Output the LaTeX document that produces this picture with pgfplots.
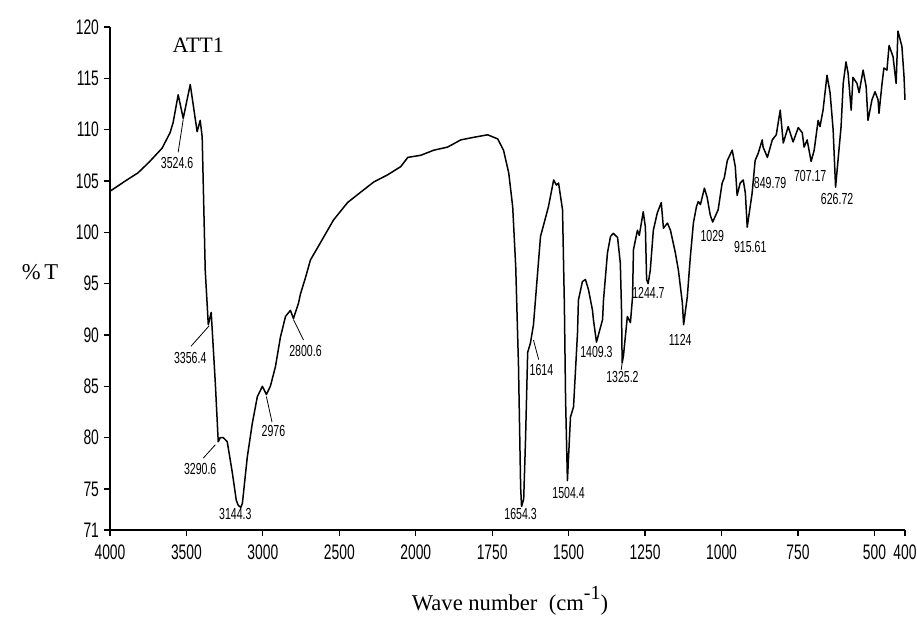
\documentclass[border=0pt]{standalone}
\usepackage{pgfplots}
\pgfplotsset{compat=1.18}
\usepackage{fontspec}
\setmainfont{Liberation Serif}
\newfontfamily\narrow[FakeStretch=0.66]{Liberation Sans}
\begin{document}
\begin{tikzpicture}
\path[use as bounding box] (-55pt,-43.5pt) rectangle (403.5pt,265pt);
\begin{axis}[
  at={(0,0)}, anchor=south west,
  scale only axis, width=397.5pt, height=251.5pt,
  x coord trafo/.code={\pgfmathparse{(#1>2000)*(2000+(#1-2000)/2)+(#1<=2000)*#1}},
  x coord inv trafo/.code={\pgfmathparse{(#1>2000)*(2000+(#1-2000)*2)+(#1<=2000)*#1}},
  x dir=reverse,
  xmin=400, xmax=4000, ymin=71, ymax=120,
  axis lines=left, axis line style={line width=0.9pt,-},
  xtick={4000,3500,3000,2500,2000,1750,1500,1250,1000,750,500,400},
  xticklabels={4000,3500,3000,2500,2000,1750,1500,1250,1000,750,500,400},
  ytick={71,75,80,85,90,95,100,105,110,115,120},
  tick align=outside, major tick length=3pt,
  tick style={black, line width=0.6pt},
  /pgf/number format/assume math mode=true,
  ticklabel style={font=\narrow\fontsize{10.5}{11}\selectfont},
  xticklabel style={yshift=-1pt},
  yticklabel style={xshift=1pt},
  clip=false,
]
\addplot[black, line width=0.75pt, line join=round] coordinates {
(4000,104.0) (3900,105.0) (3816,105.8) (3740,106.9) (3659,108.2) (3607,109.7) (3587,110.7) (3554,113.4) (3521,111.1)
(3475,114.4) (3430,109.8) (3410,110.9) (3397,109.3) (3377,96.3) (3357,91.0) (3338,92.2)
(3311,85.3) (3292,79.6) (3279,80.0) (3259,80.0) (3233,79.6) (3200,76.6) (3174,73.9)
(3161,73.4) (3144,73.2) (3134,73.6) (3102,78.1) (3069,81.4) (3036,84.0) (3003,85.0)
(2977,84.2) (2951,85.0) (2918,86.9) (2885,89.8) (2852,91.8) (2820,92.4) (2800,91.6)
(2767,93.1) (2754,94.0) (2721,95.6) (2689,97.3) (2623,99.0) (2538,101.2) (2446,102.9)
(2361,103.9) (2275,104.9) (2184,105.6) (2098,106.4) (2052,107.3) (1984,107.5) (1941,108.0)
(1896,108.3) (1853,109.0) (1820,109.2) (1765,109.5) (1732,109.1) (1713,108.0) (1696,105.8)
(1683,102.5) (1673,96.6) (1664,87.0) (1657,75.2) (1654,73.3) (1647,74.0) (1641,79.8)
(1634,88.3) (1625,89.2) (1615,91.0) (1592,99.6) (1582,100.7) (1566,102.5) (1549,105.1)
(1540,104.6) (1533,104.8) (1520,102.2) (1514,93.0) (1510,83.7) (1504,75.8) (1494,82.0)
(1484,83.0) (1471,90.2) (1468,93.4) (1455,95.2) (1445,95.4) (1435,94.4) (1422,92.4)
(1419,91.5) (1409,89.3) (1389,91.5) (1386,93.4) (1373,98.0) (1363,99.6) (1354,99.9)
(1340,99.5) (1331,97.0) (1327,92.4) (1325,87.3) (1321,87.9) (1308,91.8) (1298,91.2)
(1291,93.7) (1288,98.3) (1275,100.2) (1269,99.7) (1256,102.0) (1249,100.5) (1245,95.4)
(1240,95.0) (1233,96.3) (1223,100.2) (1210,101.9) (1197,102.9) (1190,100.4) (1177,100.9)
(1167,100.2) (1151,98.0) (1141,96.3) (1128,93.1) (1124,91.0) (1112,93.7) (1102,97.6)
(1092,100.9) (1082,102.5) (1076,103.0) (1069,102.7) (1056,104.3) (1047,103.4) (1037,101.7)
(1029,101.0) (1011,102.2) (998,104.8) (991,105.3) (981,107.0) (965,108.0) (955,106.4)
(949,103.6) (939,104.8) (929,105.1) (922,103.8) (916,100.5) (900,103.8) (890,107.0)
(880,107.7) (867,109.0) (864,108.3) (850,107.3) (834,109.0) (821,109.5) (808,111.9)
(798,108.7) (782,110.3) (766,108.8) (749,110.2) (736,109.7) (730,108.3) (720,109.0)
(707,106.9) (697,108.0) (684,110.9) (678,110.3) (668,111.9) (655,115.3) (645,113.6)
(635,110.0) (627,104.4) (609,110.3) (602,114.5) (593,116.6) (586,115.5) (576,111.9)
(570,115.1) (557,114.5) (550,113.6) (537,115.8) (527,114.2) (521,110.9) (508,112.9)
(498,113.7) (488,112.9) (485,111.6) (475,114.5) (469,116.0) (459,115.8) (452,118.2)
(439,117.1) (429,114.5) (423,119.6) (410,118.1) (403,115.1) (400,112.9)
};
% peak labels
\begin{scope}[every node/.style={font=\narrow\fontsize{8}{8}\selectfont, inner sep=0pt}]
\node at (axis cs:3561,106.8) {3524.6};
\node at (axis cs:3475,87.8) {3356.4};
\node at (axis cs:3410,76.9) {3290.6};
\node at (axis cs:3180,72.6) {3144.3};
\node at (axis cs:2931,80.6) {2976};
\node at (axis cs:2721,88.4) {2800.6};
\node at (axis cs:1657,72.6) {1654.3};
\node at (axis cs:1589,86.6) {1614};
\node at (axis cs:1500,74.6) {1504.4};
\node at (axis cs:1409,88.3) {1409.3};
\node at (axis cs:1324,85.9) {1325.2};
\node at (axis cs:1239,94.1) {1244.7};
\node at (axis cs:1135,89.5) {1124};
\node at (axis cs:1030,99.6) {1029};
\node at (axis cs:906,98.6) {915.61};
\node at (axis cs:841,104.8) {849.79};
\node at (axis cs:710,105.5) {707.17};
\node at (axis cs:622,103.2) {626.72};
\end{scope}
\begin{scope}[line width=0.4pt]
\draw (axis cs:3521,111.0) -- (axis cs:3554,107.8);
\draw (axis cs:3351,90.9) -- (axis cs:3470,88.9);
\draw (axis cs:3311,79.3) -- (axis cs:3390,78.0);
\draw (axis cs:2977,84.0) -- (axis cs:2940,81.5);
\draw (axis cs:2800,91.5) -- (axis cs:2734,89.5);
\draw (axis cs:1615,89.5) -- (axis cs:1598,87.6);
\draw (axis cs:1325,87.3) -- (axis cs:1328,86.6);
\end{scope}
\node[font=\fontsize{11}{11}\selectfont] at (axis cs:3423,118.2) {ATT1};
\end{axis}
\node[font=\fontsize{11.3}{12}\selectfont] at (-35pt,129pt) {\%\,T};
\node[font=\fontsize{11.3}{12}\selectfont] at (200pt,-35.5pt) {Wave number\ \ (cm\raisebox{1.1ex}{\fontsize{10}{10}\selectfont -1})};
\end{tikzpicture}
\end{document}
